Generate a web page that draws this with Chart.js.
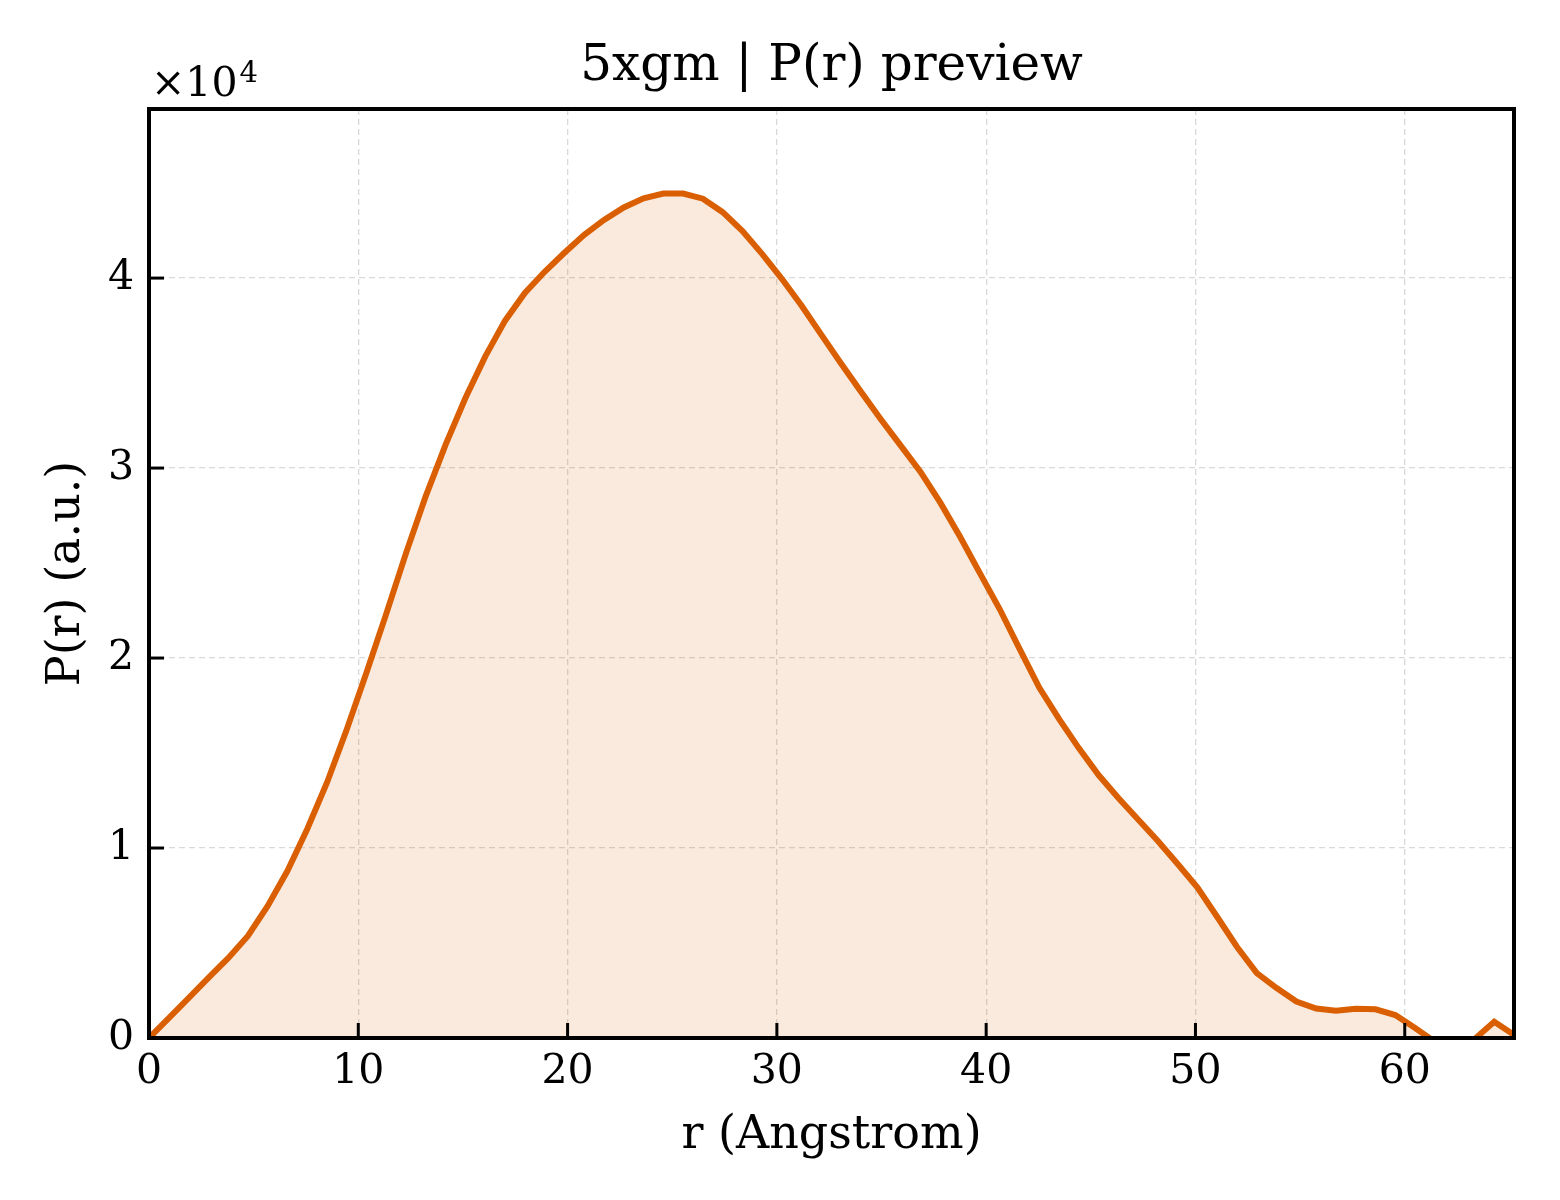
<!DOCTYPE html>
<html>
<head>
<meta charset="utf-8">
<script src="https://cdn.jsdelivr.net/npm/chart.js@4.4.1/dist/chart.umd.min.js"></script>
<style>
  html, body { margin: 0; padding: 0; background: #ffffff; }
  #wrap { width: 1560px; height: 1200px; position: relative; }
</style>
</head>
<body>
<div id="wrap"><canvas id="c" width="1560" height="1200"></canvas></div>
<script>
// ---- data ----
const rValues = [
  0.000, 0.945, 1.890, 2.836, 3.781, 4.726, 5.671, 6.617, 7.562, 8.507,
  9.452, 10.397, 11.343, 12.288, 13.233, 14.178, 15.124, 16.069, 17.014, 17.959,
  18.904, 19.850, 20.795, 21.740, 22.685, 23.631, 24.576, 25.521, 26.466, 27.411,
  28.357, 29.302, 30.247, 31.192, 32.137, 33.083, 34.028, 34.973, 35.918, 36.864,
  37.809, 38.754, 39.699, 40.644, 41.590, 42.535, 43.480, 44.425, 45.371, 46.316,
  47.261, 48.206, 49.151, 50.097, 51.042, 51.987, 52.932, 53.878, 54.823, 55.768,
  56.713, 57.658, 58.604, 59.549, 60.494, 61.439, 62.385, 63.330, 64.275, 65.220
];
const prValues = [
  0, 1050, 2100, 3160, 4200, 5370, 6950, 8800, 11000, 13450,
  16250, 19250, 22350, 25550, 28550, 31250, 33700, 35880, 37760, 39220,
  40330, 41330, 42280, 43060, 43720, 44200, 44450, 44450, 44180, 43470,
  42470, 41260, 39950, 38530, 37000, 35480, 34000, 32560, 31180, 29800,
  28180, 26380, 24470, 22580, 20500, 18450, 16800, 15260, 13840, 12630,
  11500, 10370, 9160, 7920, 6370, 4790, 3420, 2630, 1920, 1550,
  1440, 1540, 1510, 1210, 530, -200, -600, -60, 860, 170
];
const xTickValues = [0, 10, 20, 30, 40, 50, 60];
const yTickValues = [0, 10000, 20000, 30000, 40000];
const xRange = [0, 65.22];
const yRange = [0, 48900];
const titleText = '5xgm | P(r) preview';
const xLabelText = 'r (Angstrom)';
const yLabelText = 'P(r) (a.u.)';
const yScaleFactor = 10000;

// ---- styles ----
const FONT = '"DejaVu Serif", "Liberation Serif", serif';
const lineColor = 'rgb(217,95,2)';
const fillColor = 'rgba(217,95,2,0.13)';
const gridColor = 'rgba(128,128,128,0.3)';

const points = rValues.map((r, i) => ({ x: r, y: prValues[i] }));

const decorPlugin = {
  id: 'decor',
  afterDatasetsDraw(chart) {
    const ctx = chart.ctx;
    const a = chart.chartArea;
    const xs = chart.scales.x, ys = chart.scales.y;
    ctx.save();
    // inward ticks
    ctx.strokeStyle = '#000';
    ctx.lineWidth = 3;
    ctx.lineCap = 'butt';
    const tl = 15;
    xTickValues.forEach(v => {
      const px = xs.getPixelForValue(v);
      ctx.beginPath(); ctx.moveTo(px, a.bottom); ctx.lineTo(px, a.bottom - tl); ctx.stroke();
    });
    yTickValues.forEach(v => {
      const py = ys.getPixelForValue(v);
      ctx.beginPath(); ctx.moveTo(a.left, py); ctx.lineTo(a.left + tl, py); ctx.stroke();
    });
    // frame
    ctx.lineWidth = 4;
    ctx.lineJoin = 'miter';
    ctx.strokeRect(a.left, a.top, a.right - a.left, a.bottom - a.top);
    ctx.restore();
  },
  afterDraw(chart) {
    const ctx = chart.ctx;
    const a = chart.chartArea;
    const cx = (a.left + a.right) / 2;
    const cy = (a.top + a.bottom) / 2;
    ctx.save();
    ctx.fillStyle = '#000';
    ctx.textBaseline = 'alphabetic';
    // title
    ctx.font = '50px ' + FONT;
    ctx.textAlign = 'center';
    ctx.fillText(titleText, cx, 80);
    // x label
    ctx.font = '46px ' + FONT;
    ctx.fillText(xLabelText, cx, 1148);
    // y label
    ctx.save();
    ctx.translate(79, cy);
    ctx.rotate(-Math.PI / 2);
    ctx.fillText(yLabelText, 0, 0);
    ctx.restore();
    // offset text x10^4
    ctx.textAlign = 'left';
    ctx.font = '41px ' + FONT;
    const base = '\u00d710';
    ctx.fillText(base, 151, 96);
    const w = ctx.measureText(base).width;
    ctx.font = '29px ' + FONT;
    ctx.fillText(String(Math.round(Math.log10(yScaleFactor))), 151 + w + 2, 82);
    ctx.restore();
  }
};

new Chart(document.getElementById('c'), {
  type: 'line',
  data: {
    datasets: [{
      data: points,
      borderColor: lineColor,
      backgroundColor: fillColor,
      borderWidth: 6,
      fill: 'origin',
      tension: 0,
      pointRadius: 0,
      pointHoverRadius: 0,
      clip: 0
    }]
  },
  options: {
    responsive: false,
    animation: false,
    devicePixelRatio: 1,
    events: [],
    layout: { padding: { left: 0, right: 46, top: 109, bottom: 0 } },
    plugins: { legend: { display: false }, tooltip: { enabled: false }, title: { display: false } },
    scales: {
      x: {
        type: 'linear',
        position: 'bottom',
        min: xRange[0],
        max: xRange[1],
        afterFit(s) { s.height = 162; },
        afterBuildTicks(s) { s.ticks = xTickValues.map(v => ({ value: v })); },
        ticks: {
          font: { family: FONT, size: 41, lineHeight: 1 },
          color: '#000',
          padding: 14,
          maxRotation: 0,
          autoSkip: false,
          includeBounds: false,
          callback: v => String(v)
        },
        grid: { color: gridColor, lineWidth: 1.3, drawTicks: false },
        border: { display: false, dash: [6, 4] }
      },
      y: {
        type: 'linear',
        position: 'left',
        min: yRange[0],
        max: yRange[1],
        afterFit(s) { s.width = 149; },
        afterBuildTicks(s) { s.ticks = yTickValues.map(v => ({ value: v })); },
        ticks: {
          font: { family: FONT, size: 41, lineHeight: 1 },
          color: '#000',
          padding: 15,
          includeBounds: false,
          callback: v => String(v / yScaleFactor)
        },
        grid: { color: gridColor, lineWidth: 1.3, drawTicks: false },
        border: { display: false, dash: [6, 4] }
      }
    }
  },
  plugins: [decorPlugin]
});
</script>
</body>
</html>
